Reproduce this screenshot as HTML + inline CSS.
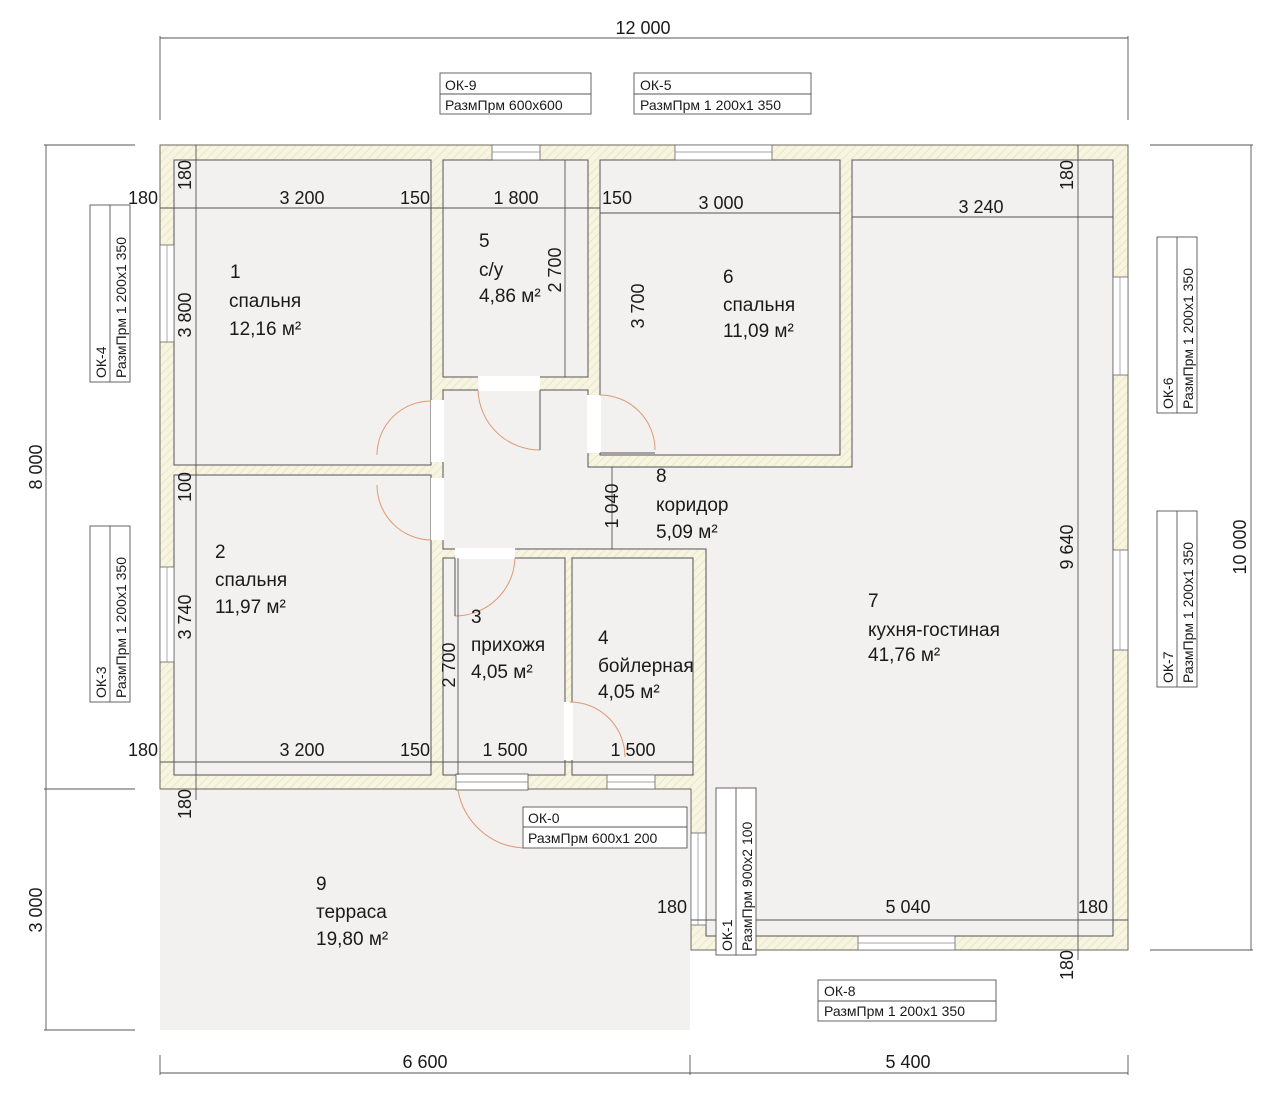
<!DOCTYPE html>
<html><head><meta charset="utf-8"><style>
html,body{margin:0;padding:0;background:#fff;}
svg{display:block;}
text{font-family:"Liberation Sans",sans-serif;fill:#1a1a1a;}
.t{font-size:19px;}
.d{font-size:18px;}
.s{font-size:14px;white-space:pre;}
</style></head><body>
<svg width="1280" height="1109" viewBox="0 0 1280 1109" xmlns="http://www.w3.org/2000/svg">
<defs>
<pattern id="h" width="6" height="6" patternUnits="userSpaceOnUse" patternTransform="rotate(45)">
<rect width="6" height="6" fill="#f7f4e2"/><line x1="0" y1="0" x2="0" y2="6" stroke="#e6e0b8" stroke-width="1.3"/>
</pattern>
</defs>
<rect x="160" y="789" width="530" height="241" fill="#f3f0f0"/>
<path d="M160,145 H1128 V950 H691 V789 H160 Z" fill="url(#h)" stroke="#6a6a5a" stroke-width="1"/>
<g fill="#f3f0f0" stroke="#555" stroke-width="1">
<rect x="174" y="160" width="257" height="305"/>
<rect x="443" y="160" width="145" height="217"/>
<rect x="600" y="160" width="240" height="295"/>
<rect x="174" y="475" width="257" height="300"/>
<rect x="443" y="558" width="122" height="217"/>
<rect x="572" y="558" width="121" height="217"/>
<path d="M443,390 H588 V467 H852 V160 H1113 V936 H706 V549 H443 Z"/>
</g>
<g fill="#fff">
<rect x="431" y="400" width="13" height="62"/>
<rect x="431" y="478" width="13" height="62"/>
<rect x="478" y="376" width="62" height="15"/>
<rect x="587" y="395" width="14" height="58"/>
<rect x="455" y="548" width="60" height="11"/>
<rect x="564" y="702" width="9" height="58"/>
<rect x="456" y="774" width="72" height="16" fill="#fff" stroke="#555" stroke-width="0.8"/>
</g>
<line x1="456" y1="782" x2="528" y2="782" stroke="#777" stroke-width="0.8"/>
<g fill="#fff" stroke="#666" stroke-width="0.8">
<rect x="492" y="145" width="48" height="15"/>
<rect x="675" y="145" width="97" height="15"/>
<rect x="160" y="245" width="14" height="97"/>
<rect x="160" y="567" width="14" height="95"/>
<rect x="1113" y="277" width="15" height="98"/>
<rect x="1113" y="550" width="15" height="100"/>
<rect x="858" y="936" width="97" height="14"/>
<rect x="607" y="775" width="48" height="14"/>
<rect x="691" y="833" width="15" height="92"/>
</g>
<g stroke="#888" stroke-width="0.7">
<line x1="492" y1="152" x2="540" y2="152"/><line x1="675" y1="152" x2="772" y2="152"/>
<line x1="167" y1="245" x2="167" y2="342"/><line x1="167" y1="567" x2="167" y2="662"/>
<line x1="1120" y1="277" x2="1120" y2="375"/><line x1="1120" y1="550" x2="1120" y2="650"/>
<line x1="858" y1="943" x2="955" y2="943"/><line x1="607" y1="782" x2="655" y2="782"/>
<line x1="698" y1="833" x2="698" y2="925"/>
</g>
<g fill="none" stroke="#e09a70" stroke-width="1">
<path d="M377,455 A54,54 0 0 1 431,401"/>
<path d="M377,485 A55,55 0 0 0 431,540"/>
<path d="M478,390 A62,62 0 0 0 540,450"/>
<path d="M600,395 A55,55 0 0 1 655,450"/>
<path d="M515,558 A60,60 0 0 1 455,616"/>
<path d="M570,702 A55,55 0 0 1 625,757"/>
<path d="M458,790 A70,70 0 0 0 523,848"/>
</g>
<g stroke="#555" stroke-width="1">
<line x1="540" y1="390" x2="540" y2="450"/>
<line x1="455" y1="558" x2="455" y2="616"/>
<line x1="600" y1="453" x2="655" y2="453"/>
</g>
<g stroke="#555" stroke-width="0.9" fill="none">
<line x1="160" y1="38" x2="1128" y2="38"/><line x1="160" y1="36" x2="160" y2="120"/><line x1="1128" y1="36" x2="1128" y2="120"/>
<line x1="160" y1="1073" x2="1128" y2="1073"/><line x1="160" y1="1055" x2="160" y2="1075"/><line x1="690" y1="1055" x2="690" y2="1075"/><line x1="1128" y1="1055" x2="1128" y2="1075"/>
<line x1="46" y1="145" x2="46" y2="1030"/><line x1="44" y1="145" x2="135" y2="145"/><line x1="44" y1="789" x2="135" y2="789"/><line x1="44" y1="1030" x2="135" y2="1030"/>
<line x1="1251" y1="145" x2="1251" y2="950"/><line x1="1150" y1="145" x2="1253" y2="145"/><line x1="1150" y1="950" x2="1253" y2="950"/>
<line x1="160" y1="208" x2="600" y2="208"/>
<line x1="600" y1="213" x2="840" y2="213"/>
<line x1="852" y1="217" x2="1113" y2="217"/>
<line x1="196" y1="145" x2="196" y2="800"/>
<line x1="565" y1="160" x2="565" y2="377"/>
<line x1="612" y1="467" x2="612" y2="549"/>
<line x1="458" y1="558" x2="458" y2="775"/>
<line x1="1078" y1="145" x2="1078" y2="960"/>
<line x1="160" y1="762" x2="693" y2="762"/>
<line x1="691" y1="920" x2="1128" y2="920"/>
</g>
<text class="d" x="643" y="34" text-anchor="middle">12 000</text>
<text class="d" x="425" y="1068" text-anchor="middle">6 600</text>
<text class="d" x="908" y="1068" text-anchor="middle">5 400</text>
<text class="d" transform="translate(42,467) rotate(-90)" text-anchor="middle">8 000</text>
<text class="d" transform="translate(42,910) rotate(-90)" text-anchor="middle">3 000</text>
<text class="d" transform="translate(1246,547) rotate(-90)" text-anchor="middle">10 000</text>
<text class="d" x="143" y="204" text-anchor="middle">180</text>
<text class="d" x="302" y="204" text-anchor="middle">3 200</text>
<text class="d" x="415" y="204" text-anchor="middle">150</text>
<text class="d" x="516" y="204" text-anchor="middle">1 800</text>
<text class="d" x="617" y="204" text-anchor="middle">150</text>
<text class="d" x="721" y="209" text-anchor="middle">3 000</text>
<text class="d" x="981" y="213" text-anchor="middle">3 240</text>
<text class="d" x="143" y="756" text-anchor="middle">180</text>
<text class="d" x="302" y="756" text-anchor="middle">3 200</text>
<text class="d" x="415" y="756" text-anchor="middle">150</text>
<text class="d" x="505" y="756" text-anchor="middle">1 500</text>
<text class="d" x="633" y="756" text-anchor="middle">1 500</text>
<text class="d" x="672" y="913" text-anchor="middle">180</text>
<text class="d" x="908" y="913" text-anchor="middle">5 040</text>
<text class="d" x="1093" y="913" text-anchor="middle">180</text>
<text class="d" transform="translate(191,175) rotate(-90)" text-anchor="middle">180</text>
<text class="d" transform="translate(191,315) rotate(-90)" text-anchor="middle">3 800</text>
<text class="d" transform="translate(191,487) rotate(-90)" text-anchor="middle">100</text>
<text class="d" transform="translate(191,617) rotate(-90)" text-anchor="middle">3 740</text>
<text class="d" transform="translate(191,804) rotate(-90)" text-anchor="middle">180</text>
<text class="d" transform="translate(561,270) rotate(-90)" text-anchor="middle">2 700</text>
<text class="d" transform="translate(644,306) rotate(-90)" text-anchor="middle">3 700</text>
<text class="d" transform="translate(618,506) rotate(-90)" text-anchor="middle">1 040</text>
<text class="d" transform="translate(455,665) rotate(-90)" text-anchor="middle">2 700</text>
<text class="d" transform="translate(1073,547) rotate(-90)" text-anchor="middle">9 640</text>
<text class="d" transform="translate(1073,175) rotate(-90)" text-anchor="middle">180</text>
<text class="d" transform="translate(1073,965) rotate(-90)" text-anchor="middle">180</text>
<g class="t">
<text x="230" y="278">1</text><text x="229" y="307">спальня</text><text x="229" y="335">12,16 м²</text>
<text x="479" y="247">5</text><text x="479" y="276">с/у</text><text x="479" y="302">4,86 м²</text>
<text x="723" y="283">6</text><text x="723" y="311">спальня</text><text x="723" y="337">11,09 м²</text>
<text x="656" y="482">8</text><text x="656" y="511">коридор</text><text x="656" y="538">5,09 м²</text>
<text x="215" y="558">2</text><text x="215" y="586">спальня</text><text x="215" y="613">11,97 м²</text>
<text x="471" y="623">3</text><text x="471" y="651">прихожя</text><text x="471" y="678">4,05 м²</text>
<text x="598" y="644">4</text><text x="598" y="672">бойлерная</text><text x="598" y="698">4,05 м²</text>
<text x="868" y="607">7</text><text x="868" y="636">кухня-гостиная</text><text x="868" y="661">41,76 м²</text>
<text x="316" y="890">9</text><text x="316" y="918">терраса</text><text x="316" y="945">19,80 м²</text>
</g>
<g fill="#fff" stroke="#555" stroke-width="0.9">
<rect x="440" y="73" width="151" height="41"/><line x1="440" y1="94" x2="591" y2="94"/>
<rect x="634" y="73" width="177" height="41"/><line x1="634" y1="94" x2="811" y2="94"/>
<rect x="818" y="980" width="178" height="41"/><line x1="818" y1="1001" x2="996" y2="1001"/>
<rect x="523" y="807" width="164" height="41"/><line x1="523" y1="827" x2="687" y2="827"/>
<rect x="90" y="205" width="40" height="177"/><line x1="110" y1="205" x2="110" y2="382"/>
<rect x="90" y="526" width="40" height="176"/><line x1="110" y1="526" x2="110" y2="702"/>
<rect x="1157" y="237" width="40" height="176"/><line x1="1177" y1="237" x2="1177" y2="413"/>
<rect x="1157" y="511" width="40" height="176"/><line x1="1177" y1="511" x2="1177" y2="687"/>
<rect x="716" y="788" width="40" height="167"/><line x1="736" y1="788" x2="736" y2="955"/>
</g>
<g class="s">
<text x="445" y="90">ОК-9</text><text x="445" y="110">РазмПрм   600х600</text>
<text x="640" y="90">ОК-5</text><text x="640" y="110">РазмПрм   1 200х1 350</text>
<text x="824" y="996">ОК-8</text><text x="824" y="1016">РазмПрм   1 200х1 350</text>
<text x="528" y="823">ОК-0</text><text x="528" y="843">РазмПрм   600х1 200</text>
<text transform="translate(106,378) rotate(-90)">ОК-4</text><text transform="translate(126,378) rotate(-90)">РазмПрм   1 200х1 350</text>
<text transform="translate(106,698) rotate(-90)">ОК-3</text><text transform="translate(126,698) rotate(-90)">РазмПрм   1 200х1 350</text>
<text transform="translate(1173,409) rotate(-90)">ОК-6</text><text transform="translate(1193,409) rotate(-90)">РазмПрм   1 200х1 350</text>
<text transform="translate(1173,683) rotate(-90)">ОК-7</text><text transform="translate(1193,683) rotate(-90)">РазмПрм   1 200х1 350</text>
<text transform="translate(732,951) rotate(-90)">ОК-1</text><text transform="translate(752,951) rotate(-90)">РазмПрм   900х2 100</text>
</g>
</svg>
</body></html>
